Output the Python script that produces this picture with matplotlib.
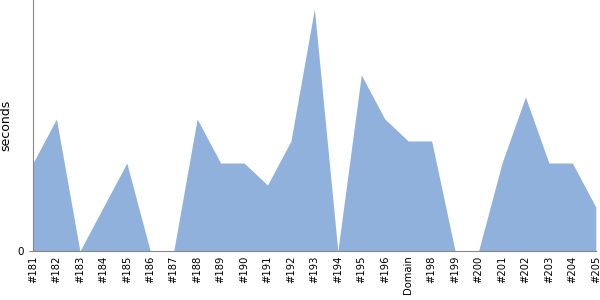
import matplotlib
matplotlib.use("Agg")
import matplotlib.pyplot as plt

labels = ["#181", "#182", "#183", "#184", "#185", "#186", "#187", "#188", "#189",
          "#190", "#191", "#192", "#193", "#194", "#195", "#196", "Domain", "#198",
          "#199", "#200", "#201", "#202", "#203", "#204", "#205"]
seconds = [4, 6, 0, 2, 4, 0, 0, 6, 4, 4, 3, 5, 11, 0, 8, 6, 5, 5, 0, 0, 4, 7, 4, 4, 2]

fig = plt.figure(figsize=(6, 3), dpi=100)
ax = fig.add_axes([0.055, 0.163, 0.938, 0.837])
x = list(range(len(labels)))
ax.fill_between(x, 0, seconds, color="#8fb1dc", linewidth=0)
ax.set_xlim(0, len(labels) - 1)
ax.set_ylim(0, 11.4)
ax.set_xticks(x)
ax.set_xticklabels(labels, rotation=90, fontsize=7.2)
ax.set_yticks([0])
ax.tick_params(axis="y", labelsize=7.5, length=3, color="#888888")
ax.tick_params(axis="x", length=0, pad=3)
ax.set_ylabel("seconds", fontsize=9)
for s in ["top", "right"]:
    ax.spines[s].set_visible(False)
for s in ["left", "bottom"]:
    ax.spines[s].set_color("#888888")
fig.savefig("out.png")
